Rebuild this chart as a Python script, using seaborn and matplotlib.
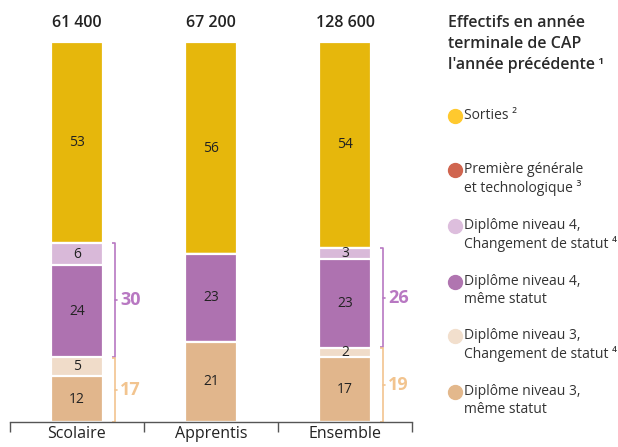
import matplotlib
matplotlib.use("Agg")
import matplotlib.pyplot as plt
import seaborn as sns
import numpy as np
import pandas as pd
from matplotlib.lines import Line2D

sns.set_style("white")
plt.rcParams['font.family'] = ['Open Sans', 'DejaVu Sans']

# ---------------- data ----------------
categories = ["Scolaire", "Apprentis", "Ensemble"]
totals = ["61 400", "67 200", "128 600"]

# segment heights (share of students, %)
niv3_meme = [12.1, 21.1, 17.0]
niv3_chg = [4.9, 0.0, 2.5]
niv4_meme = [24.2, 23.1, 23.4]
niv4_chg = [5.8, 0.0, 2.9]
premiere = [0.0, 0.0, 0.0]
sorties = [53.0, 55.8, 54.2]

# labels printed in the segments
lab_niv3_meme = ["12", "21", "17"]
lab_niv3_chg = ["5", "", "2"]
lab_niv4_meme = ["24", "23", "23"]
lab_niv4_chg = ["6", "", "3"]
lab_sorties = ["53", "56", "54"]

# bracket totals
brk_niv4 = ["30", "", "26"]
brk_niv3 = ["17", "", "19"]

legend_title = "Effectifs en année\nterminale de CAP\nl'année précédente\u2009¹"
legend_labels = ["Sorties ²", "Première générale\net technologique ³",
                 "Diplôme niveau 4,\nChangement de statut ⁴", "Diplôme niveau 4,\nmême statut",
                 "Diplôme niveau 3,\nChangement de statut ⁴", "Diplôme niveau 3,\nmême statut"]

bar_colors = ["#E6B70C", "#D0654F", "#D9B9D9", "#AE72B0", "#F0DCC9", "#E1B68C"]
dot_colors = ["#FFC92E", "#D0654F", "#DDBEDD", "#B075B0", "#F2DFCD", "#E3B88C"]

# ---------------- figure ----------------
fig = plt.figure(figsize=(6.18, 4.47), dpi=100)
ax = fig.add_axes([10/618, 25/447, 402/618, 380/447])

layers_bottom_up = [niv3_meme, niv3_chg, niv4_meme, niv4_chg, premiere, sorties]
colors_bottom_up = [bar_colors[5], bar_colors[4], bar_colors[3], bar_colors[2], bar_colors[1], bar_colors[0]]
cum = np.cumsum(np.array(layers_bottom_up), axis=0)

for k in range(len(layers_bottom_up) - 1, -1, -1):
    df = pd.DataFrame({"cat": categories, "val": cum[k]})
    sns.barplot(data=df, x="cat", y="val", order=categories, color=colors_bottom_up[k],
                width=0.39, edgecolor="white", linewidth=1.6, saturation=1, ax=ax, errorbar=None)

# segment labels
labels_bottom_up = [lab_niv3_meme, lab_niv3_chg, lab_niv4_meme, lab_niv4_chg, ["", "", ""], lab_sorties]
for k, labs in enumerate(labels_bottom_up):
    for i in range(len(categories)):
        h = layers_bottom_up[k][i]
        if labs[i] and h > 0:
            base = cum[k][i] - h
            ax.text(i, base + h / 2, labs[i], ha="center", va="center", fontsize=10, color="#222222")

# totals on top
for i, t in enumerate(totals):
    ax.text(i, 102.8, t, ha="center", va="bottom", fontsize=11.5, fontweight="semibold",
            color="#222222", clip_on=False)

# brackets
purple = "#B878C2"
orange = "#F2C48F"
bx = 0.284
for i in range(len(categories)):
    if brk_niv4[i]:
        y0 = cum[1][i]
        y1 = cum[3][i]
        ax.plot([i + bx - 0.02, i + bx, i + bx, i + bx - 0.02], [y1, y1, y0 + 0.15, y0 + 0.15],
                color=purple, lw=1.2, clip_on=False, solid_capstyle="butt")
        ym = (y0 + y1) / 2
        ax.plot([i + bx, i + bx + 0.018], [ym, ym], color=purple, lw=1.2, clip_on=False)
        ax.text(i + bx + 0.04, ym, brk_niv4[i], ha="left", va="center", fontsize=13,
                fontweight="bold", color=purple, clip_on=False)
    if brk_niv3[i]:
        y0 = 0
        y1 = cum[1][i]
        ax.plot([i + bx - 0.02, i + bx, i + bx, i + bx - 0.02], [y1 - 0.15, y1 - 0.15, y0, y0],
                color=orange, lw=1.2, clip_on=False, solid_capstyle="butt")
        ym = (y0 + y1) / 2
        ax.plot([i + bx, i + bx + 0.018], [ym, ym], color=orange, lw=1.2, clip_on=False)
        ax.text(i + bx + 0.04, ym, brk_niv3[i], ha="left", va="center", fontsize=13,
                fontweight="bold", color=orange, clip_on=False)

# axes styling
ax.set_xlim(-0.5, 2.5)
ax.set_ylim(0, 100)
ax.set_xlabel("")
ax.set_ylabel("")
ax.set_yticks([])
for s in ["top", "right", "left"]:
    ax.spines[s].set_visible(False)
ax.spines["bottom"].set_color("#555555")
ax.spines["bottom"].set_linewidth(1.0)
ax.set_xticks(range(len(categories)))
ax.set_xticklabels(categories, fontsize=11.5, color="#222222")
ax.tick_params(axis="x", which="major", length=0, pad=3, bottom=True)
ax.set_xticks([-0.5, 0.5, 1.5, 2.5], minor=True)
ax.tick_params(axis="x", which="minor", length=7, width=1.0, color="#555555",
               direction="out", bottom=True)

# legend (manual)
fig.text(448/618, 1 - 15/447, legend_title, ha="left", va="top", fontsize=11.5,
         fontweight="semibold", color="#2a2a2a", linespacing=1.4)
leg_y = [116, 170, 226, 282, 336, 392]
for j, (lab, c) in enumerate(zip(legend_labels, dot_colors)):
    y = 1 - leg_y[j] / 447
    fig.add_artist(Line2D([455/618], [y], marker="o", markersize=10, color=c,
                          markeredgecolor=c, linestyle="none", transform=fig.transFigure))
    fig.text(464/618, y + 8/447 if "\n" in lab else y, lab, ha="left",
             va="top" if "\n" in lab else "center", fontsize=10, color="#333333",
             linespacing=1.25)

fig.savefig("out.png", dpi=100)
